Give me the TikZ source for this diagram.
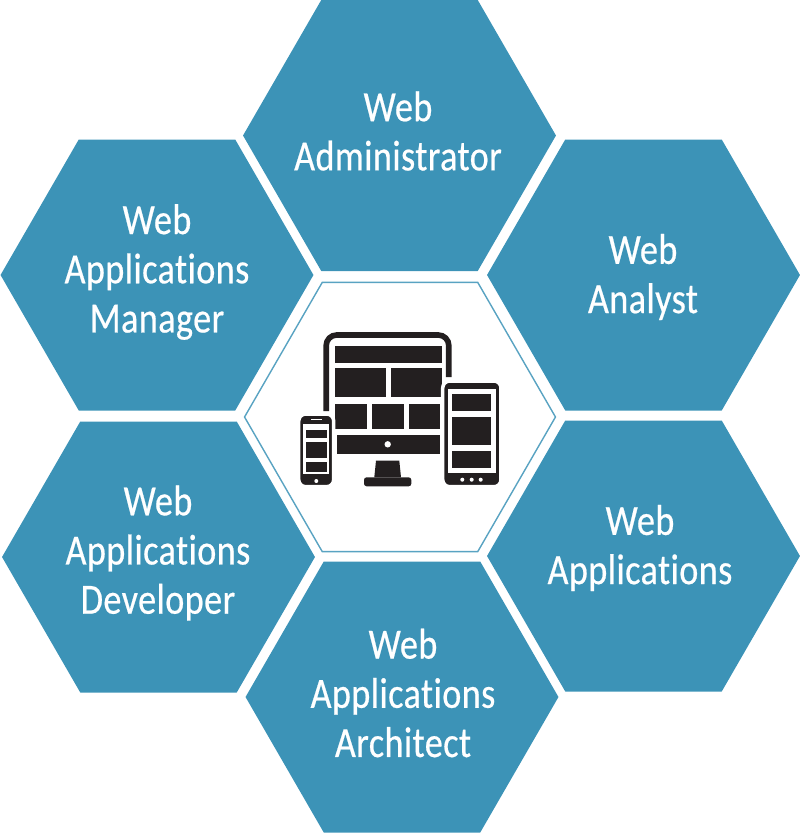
\documentclass[tikz,border=0pt]{standalone}
\usepackage{fontspec}
\setmainfont[FakeStretch=0.84,FakeBold=0.5,LetterSpace=1,Ligatures=NoCommon]{Carlito}
\usetikzlibrary{shapes.geometric}
\definecolor{hexteal}{HTML}{3C93B7}
\definecolor{iconblack}{HTML}{231F20}
\tikzset{
  hexcell/.style={regular polygon,regular polygon sides=6,minimum size=6.26cm,inner sep=0pt,outer sep=0pt,fill=hexteal},
  hexcentre/.style={hexcell,minimum size=6.22cm,fill=white,draw=hexteal!85,line width=0.8pt},
  hexlabel/.style={inner sep=0pt,text=white,align=center,font=\fontsize{24.5}{28}\selectfont},
  iconpart/.style={fill=iconblack},
  iconbody/.style={fill=iconblack,draw=white,line width=2pt,rounded corners=4pt},
  iconhole/.style={fill=white}
}
\begin{document}
\begin{tikzpicture}[x=0.02cm,y=0.02cm]
\useasboundingbox (0,0) rectangle (800,-833);

\node [hexcell] (admincell) at (399.5,-135.5) {};
\node [hexcell] (managercell) at (157,-275) {};
\node [hexcell] (analystcell) at (643.5,-275) {};
\node [hexcell] (developercell) at (158.5,-557) {};
\node [hexcell] (appscell) at (643.5,-556) {};
\node [hexcell] (architectcell) at (402,-697) {};
\node [hexcentre] (centrecell) at (400,-417) {};

\node [hexlabel] (admintext) at (398,-131) {Web\\Administrator};
\node [hexlabel] (managertext) at (157,-272) {Web\\Applications\\Manager};
\node [hexlabel] (analysttext) at (643,-277) {Web\\Analyst};
\node [hexlabel] (developertext) at (158,-553) {Web\\Applications\\Developer};
\node [hexlabel] (appstext) at (640,-548) {Web\\Applications};
\node [hexlabel] (architecttext) at (403,-693) {Web\\Applications\\Architect};

% monitor
\draw [iconblack,line width=3.2pt,rounded corners=6pt] (326.2,-411) -- (326.2,-335) -- (448.8,-335) -- (448.8,-377);
\fill [iconpart] (334.7,-346.3) rectangle (441.7,-362.7);
\fill [iconpart] (334.7,-368.3) rectangle (385.7,-397);
\fill [iconpart] (390.7,-368.3) rectangle (441.7,-397);
\fill [iconpart] (334.7,-403.7) rectangle (367.3,-429);
\fill [iconpart] (371.7,-403.7) rectangle (403.7,-429);
\fill [iconpart] (408.7,-403.7) rectangle (439.7,-429);
\fill [iconpart] (336.7,-435.3) rectangle (439.7,-454);
\fill [iconhole] (387.7,-444.3) circle (3.2);

% stand
\fill [iconpart] (376,-460.7) -- (399.3,-460.7) -- (401,-477.3) -- (374.3,-477.3) -- cycle;
\fill [iconpart,rounded corners=1.5pt] (364,-477.3) rectangle (411.3,-486.3);

% tablet
\draw [iconbody] (442.7,-381) rectangle (501,-486.7);
\fill [iconhole] (448,-389) rectangle (495.7,-473);
\fill [iconpart] (452.3,-394) rectangle (491.3,-411.3);
\fill [iconpart] (452.3,-416.7) rectangle (491.3,-445.3);
\fill [iconpart] (452.3,-450.7) rectangle (491.3,-467.7);
\fill [iconhole] (462.3,-479.7) circle (2);
\fill [iconhole] (471.7,-479.7) circle (2);
\fill [iconhole] (480.7,-479.7) circle (2);

% phone
\draw [iconbody] (298.7,-414) rectangle (333.7,-486.7);
\fill [iconhole] (303.3,-424.3) rectangle (329,-474);
\fill [iconpart] (306,-429.7) rectangle (326.7,-438.3);
\fill [iconpart] (306,-442.3) rectangle (326.7,-458.3);
\fill [iconpart] (306,-462.3) rectangle (326.7,-471.7);
\fill [iconhole] (311,-418.7) rectangle (321.7,-420);
\fill [iconhole] (316.3,-481) circle (2);
\end{tikzpicture}
\end{document}
